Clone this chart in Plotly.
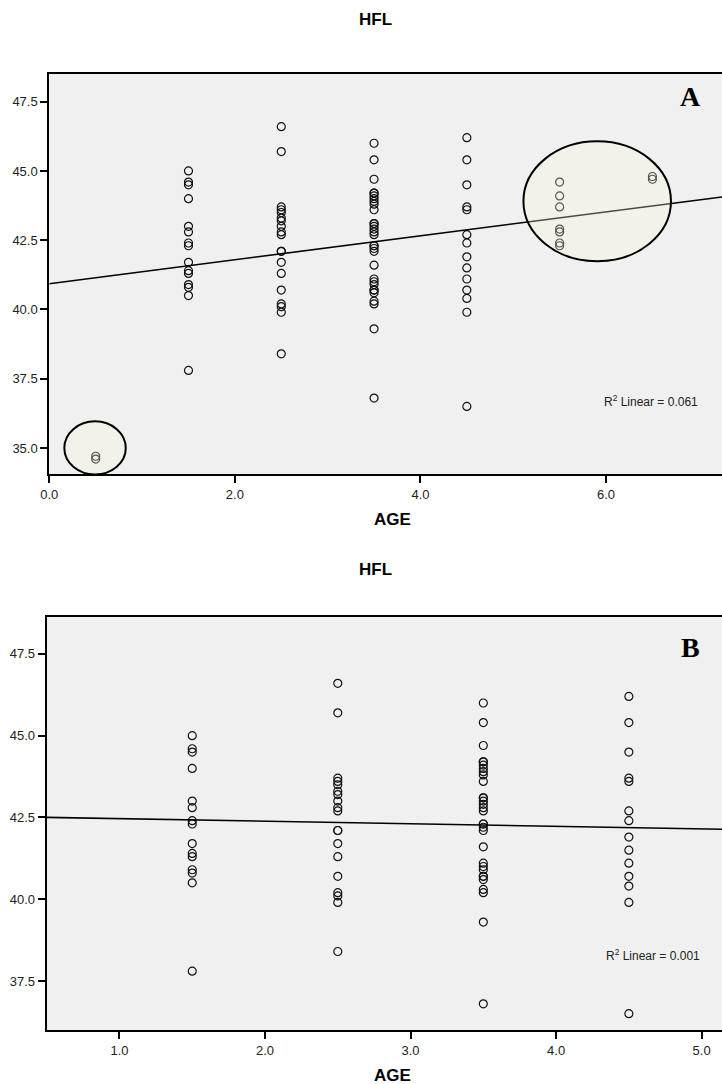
import plotly.graph_objects as go

# HFL measurements grouped by AGE class
age_levels = [0.5, 1.5, 2.5, 3.5, 4.5, 5.5, 6.5]
hfl_05 = [34.7, 34.6]
hfl_15 = [45.0, 44.6, 44.5, 44.0, 43.0, 42.8, 42.4, 42.3, 41.7, 41.4, 41.3, 40.9, 40.8, 40.5, 37.8]
hfl_25 = [46.6, 45.7, 43.7, 43.6, 43.5, 43.3, 43.2, 43.0, 42.8, 42.7, 42.1, 42.1, 41.7, 41.3,
          40.7, 40.2, 40.1, 39.9, 38.4]
hfl_35 = [46.0, 45.4, 44.7, 44.2, 44.2, 44.1, 44.0, 43.9, 43.8, 43.6, 43.1, 43.1, 43.0, 42.9,
          42.8, 42.7, 42.3, 42.3, 42.2, 42.1, 41.6, 41.1, 41.0, 40.9, 40.7, 40.7, 40.6, 40.3,
          40.2, 39.3, 36.8]
hfl_45 = [46.2, 45.4, 44.5, 43.7, 43.6, 42.7, 42.4, 41.9, 41.5, 41.1, 40.7, 40.4, 39.9, 36.5]
hfl_55 = [44.6, 44.1, 43.7, 42.9, 42.8, 42.4, 42.3]
hfl_65 = [44.8, 44.7]
hfl_groups = [hfl_05, hfl_15, hfl_25, hfl_35, hfl_45, hfl_55, hfl_65]

# linear fits (intercept, slope) and R² labels
fit_a = (40.93, 0.432)
fit_b = (42.54, -0.078)
r2_a = "0.061"
r2_b = "0.001"

# panel B omits the youngest and oldest classes
ages_b_levels = [1.5, 2.5, 3.5, 4.5]

W, H = 722, 1084


def px(x):
    return x / W


def py(y):
    return 1 - y / H


ages_a, vals_a = [], []
for a, g in zip(age_levels, hfl_groups):
    ages_a += [a] * len(g)
    vals_a += g
ages_b, vals_b = [], []
for a, g in zip(age_levels, hfl_groups):
    if a in ages_b_levels:
        ages_b += [a] * len(g)
        vals_b += g

xr_a = [0, 7.25]
yr_a = [34.06, 48.5]
xr_b = [0.5, 5.14]
yr_b = [36.0, 48.62]

marker = dict(symbol="circle-open", size=8, color="#111111", line=dict(width=1.2))
line_style = dict(color="black", width=1.6)

fig = go.Figure()
fig.add_trace(go.Scatter(x=ages_a, y=vals_a, mode="markers", marker=marker,
                         xaxis="x", yaxis="y", showlegend=False, hoverinfo="x+y"))
fig.add_trace(go.Scatter(x=xr_a, y=[fit_a[0] + fit_a[1] * v for v in xr_a], mode="lines",
                         line=line_style, xaxis="x", yaxis="y", showlegend=False))
fig.add_trace(go.Scatter(x=ages_b, y=vals_b, mode="markers", marker=marker,
                         xaxis="x2", yaxis="y2", showlegend=False, hoverinfo="x+y"))
fig.add_trace(go.Scatter(x=xr_b, y=[fit_b[0] + fit_b[1] * v for v in xr_b], mode="lines",
                         line=line_style, xaxis="x2", yaxis="y2", showlegend=False))

tick_font = dict(family="Liberation Sans, Arial, sans-serif", size=13, color="#222222")
common_x = dict(showgrid=False, zeroline=False, showline=True, linecolor="black", linewidth=2,
                mirror=True, ticks="outside", ticklen=7, tickwidth=2, tickcolor="black",
                tickfont=tick_font, tickformat=".1f", fixedrange=True, automargin=False)
common_y = dict(showgrid=False, zeroline=False, showline=True, linecolor="black", linewidth=2,
                ticks="outside", ticklen=7, tickwidth=2, tickcolor="black",
                tickfont=tick_font, tickformat=".1f", dtick=2.5, tick0=35, fixedrange=True,
                automargin=False)

fig.update_layout(
    template="none",
    width=W, height=H, autosize=False,
    margin=dict(l=0, r=0, t=0, b=0, pad=0),
    paper_bgcolor="white", plot_bgcolor="#f0f0f0",
    xaxis=dict(common_x, domain=[px(49.3), 1], range=xr_a, anchor="y", dtick=2, tick0=0),
    yaxis=dict(common_y, domain=[py(474), py(74)], range=yr_a, anchor="x"),
    xaxis2=dict(common_x, domain=[px(46.7), 1], range=xr_b, anchor="y2", dtick=1, tick0=1),
    yaxis2=dict(common_y, domain=[py(1030), py(617.3)], range=yr_b, anchor="x2"),
)

# highlighted groups
ell_fill = "rgba(250,250,217,0.3)"
ell_line = dict(color="black", width=2)
fig.add_shape(type="circle", xref="x", yref="y", x0=5.11, x1=6.70, y0=41.74, y1=46.07,
              fillcolor=ell_fill, line=ell_line, layer="above")
fig.add_shape(type="circle", xref="x", yref="y", x0=0.162, x1=0.824, y0=34.04, y1=35.96,
              fillcolor=ell_fill, line=ell_line, layer="above")

title_font = dict(family="Liberation Sans, Arial, sans-serif", size=17, color="black")
letter_font = dict(family="Liberation Serif, Times New Roman, serif", size=28, color="black")
r2_font = dict(family="Liberation Sans, Arial, sans-serif", size=12, color="#222222")


def note(text, x, y, font):
    fig.add_annotation(text=text, x=px(x), y=py(y), xref="paper", yref="paper",
                       showarrow=False, font=font, xanchor="center", yanchor="middle")


note("<b>HFL</b>", 375, 19, title_font)
note("<b>HFL</b>", 375, 569, title_font)
note("<b>AGE</b>", 392, 519, title_font)
note("<b>AGE</b>", 392, 1075, title_font)
note("<b>A</b>", 690, 97, letter_font)
note("<b>B</b>", 690, 647, letter_font)
note(f"R<sup>2</sup> Linear = {r2_a}", 651, 401, r2_font)
note(f"R<sup>2</sup> Linear = {r2_b}", 653, 955, r2_font)

fig.write_html("out.html")
